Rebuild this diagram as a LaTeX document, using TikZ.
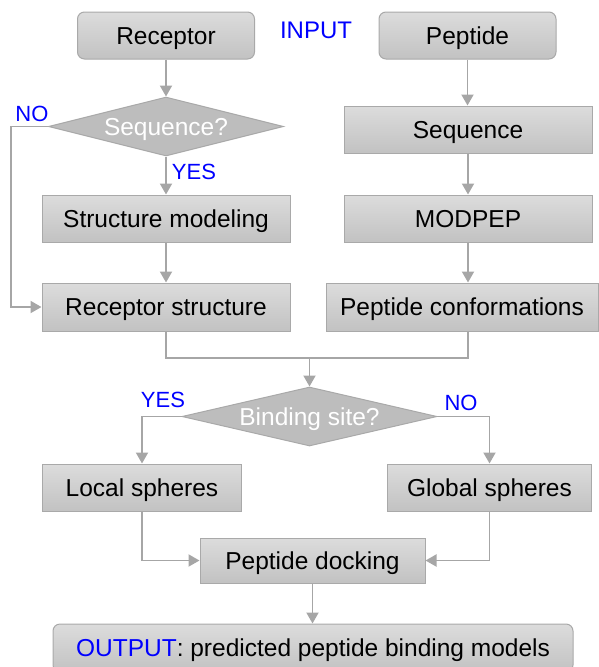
\documentclass[tikz,border=0pt]{standalone}
\usepackage{fontspec}
\setmainfont{Liberation Sans}
\usetikzlibrary{shapes.geometric,arrows.meta}
\definecolor{bline}{HTML}{A9A9A9}
\definecolor{aline}{HTML}{A6A6A6}
\definecolor{btop}{HTML}{DCDCDC}
\definecolor{bbot}{HTML}{C2C2C2}
\definecolor{dfill}{HTML}{BDBDBD}
\definecolor{lblue}{HTML}{0000FF}
\begin{document}
\begin{tikzpicture}[x=1pt,y=-1pt,
  box/.style={draw=bline, line width=1pt, top color=btop, bottom color=bbot,
    inner sep=0pt, text height=17.5pt, text depth=0pt,
    font=\fontsize{24.5}{28}\selectfont},
  rbox/.style={box, rounded corners=7pt},
  dec/.style={diamond, draw=bline, line width=1pt, fill=dfill, text=white,
    inner sep=0pt, aspect=4, text height=17.5pt, text depth=0pt,
    font=\fontsize{24.5}{28}\selectfont},
  lab/.style={text=lblue, inner sep=0pt, text height=15.8pt, text depth=0pt,
    font=\fontsize{22}{26}\selectfont},
  ln/.style={draw=aline, line width=1.9pt},
  arr/.style={ln, -{Triangle[length=11pt,width=12pt]}}]
\useasboundingbox (0,0) rectangle (598,667);

% nodes
\node[rbox, minimum width=177pt, minimum height=47pt] (rec) at (166,35.5) {Receptor};
\node[rbox, minimum width=177pt, minimum height=47pt] (pep) at (467.5,35.5) {Peptide};
\node[lab, text height=17.2pt, font=\fontsize{24}{28}\selectfont] (inp) at (316,30) {INPUT};
\node[dec, minimum width=235pt, minimum height=59pt] (sq) at (166,126.5) {Sequence?};
\node[box, minimum width=248pt, minimum height=47pt] (seqb) at (468,129.5) {Sequence};
\node[box, minimum width=248pt, minimum height=47pt] (sm) at (166,218.5) {Structure modeling};
\node[box, minimum width=248pt, minimum height=47pt] (mp) at (468,218.5) {MODPEP};
\node[box, minimum width=248pt, minimum height=48pt] (rs) at (166,307) {Receptor structure};
\node[box, minimum width=272pt, minimum height=48pt] (pc) at (462,307) {Peptide conformations};
\node[dec, minimum width=255pt, minimum height=59pt] (bd) at (309.5,416.5) {Binding site?};
\node[box, minimum width=199pt, minimum height=47pt] (ls) at (142,487.5) {Local spheres};
\node[box, minimum width=204pt, minimum height=47pt] (gs) at (489.5,487.5) {Global spheres};
\node[box, minimum width=225pt, minimum height=45pt] (pd) at (312.5,560.5) {Peptide docking};
\node[rbox, minimum width=520pt, minimum height=48pt] (out) at (313,648)
  {\textcolor{lblue}{OUTPUT}: predicted peptide binding models};

% labels
\node[lab] (no1) at (32,114) {NO};
\node[lab] (yes1) at (194,172) {YES};
\node[lab] (yes2) at (163,400) {YES};
\node[lab] (no2) at (461,403) {NO};

% helper coordinates
\coordinate (c1) at (11,126.5);
\coordinate (mj) at (309.5,358);

% connectors
\draw[arr] (rec.south) -- (sq.north);
\draw[arr] (sq.south) -- (sm.north);
\draw[arr] (sm.south) -- (rs.north);
\draw[arr] (sq.west) -- (c1) |- (rs.west);
\draw[arr] (pep.south) -- (pep.south |- seqb.north);
\draw[arr] (seqb.south) -- (mp.north);
\draw[arr] (mp.south) -- (mp.south |- pc.north);
\draw[ln] (rs.south) |- (mj) -| (mp.south |- pc.south);
\draw[arr] (mj) -- (bd.north);
\draw[arr] (bd.west) -| (ls.north);
\draw[arr] (bd.east) -| (gs.north);
\draw[arr] (ls.south) |- (pd.west);
\draw[arr] (gs.south) |- (pd.east);
\draw[arr] (pd.south) -- (pd.south |- out.north);
\end{tikzpicture}
\end{document}
